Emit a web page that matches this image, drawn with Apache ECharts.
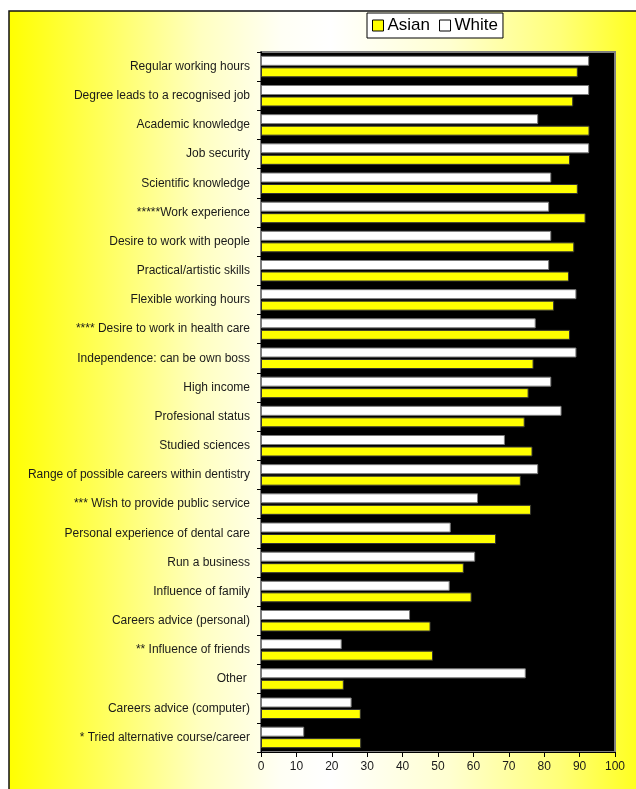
<!DOCTYPE html>
<html>
<head>
<meta charset="utf-8">
<script src="https://cdn.jsdelivr.net/npm/echarts@6/dist/echarts.min.js"></script>
<style>
html, body { margin: 0; padding: 0; background: #fff; }
#chart { width: 636px; height: 789px; }
</style>
</head>
<body>
<div id="chart"></div>
<script>
// motivations, top to bottom
var categories = [
    'Regular working hours',
    'Degree leads to a recognised job',
    'Academic knowledge',
    'Job security',
    'Scientific knowledge',
    '*****Work experience',
    'Desire to work with people',
    'Practical/artistic skills',
    'Flexible working hours',
    '**** Desire to work in health care',
    'Independence: can be own boss',
    'High income',
    'Profesional status',
    'Studied sciences',
    'Range of possible careers within dentistry',
    '*** Wish to provide public service',
    'Personal experience of dental care',
    'Run a business',
    'Influence of family',
    'Careers advice (personal)',
    '** Influence of friends',
    'Other ',
    'Careers advice (computer)',
    '* Tried alternative course/career'
];
var asianValues = [89.5, 88.2, 92.8, 87.3, 89.5, 91.7, 88.5, 87.0, 82.8, 87.3, 77.0, 75.6,
    74.5, 76.7, 73.4, 76.3, 66.4, 57.3, 59.5, 47.9, 48.6, 23.4, 28.2, 28.3];
var whiteValues = [92.7, 92.7, 78.3, 92.7, 82.0, 81.4, 82.0, 81.4, 89.1, 77.6, 89.1, 82.0,
    84.9, 68.9, 78.3, 61.3, 53.6, 60.5, 53.3, 42.1, 22.8, 74.8, 25.6, 12.2];
var xTicks = [0, 100, 10];

var chart = echarts.init(document.getElementById('chart'));

// 背景渐变 (x 9..650)
function stop(x, c) { return {offset: (x - 9) / 641, color: c}; }
var bgGradient = new echarts.graphic.LinearGradient(0, 0, 1, 0, [
    stop(9, '#ffff00'),
    stop(100, '#ffff58'),
    stop(200, '#ffffc0'),
    stop(280, '#fffff4'),
    stop(330, '#ffffff'),
    stop(450, '#ffffd0'),
    stop(560, '#ffff78'),
    stop(636, '#ffff20'),
    stop(650, '#ffff10')
]);

var option = {
    backgroundColor: '#fff',
    animation: false,
    graphic: [{
        type: 'rect',
        z: -10,
        shape: {x: 9, y: 11, width: 641, height: 800},
        style: {fill: bgGradient, stroke: '#111', lineWidth: 1.5}
    }],
    legend: {
        data: ['Asian', 'White'],
        left: 367,
        top: 13,
        backgroundColor: '#fff',
        borderColor: '#000',
        borderWidth: 1,
        padding: [4, 5, 4, 5],
        itemGap: 9,
        itemWidth: 11,
        itemHeight: 11,
        icon: 'rect',
        itemStyle: {borderColor: '#000', borderWidth: 1},
        textStyle: {fontFamily: 'Liberation Sans', fontSize: 17, color: '#000', padding: [0, 0, 0, -1]}
    },
    grid: {
        left: 261,
        top: 52,
        right: 21,
        bottom: 37,
        show: true,
        backgroundColor: '#000',
        borderColor: '#808080',
        borderWidth: 2
    },
    xAxis: {
        type: 'value',
        min: xTicks[0],
        max: xTicks[1],
        interval: xTicks[2],
        splitLine: {show: false},
        axisLine: {show: true, lineStyle: {color: '#000', width: 1}},
        axisTick: {show: true, length: 5, lineStyle: {color: '#000'}},
        axisLabel: {fontFamily: 'Liberation Sans', fontSize: 12, color: '#1a1a1a', margin: 9}
    },
    yAxis: {
        type: 'category',
        inverse: true,
        data: categories,
        axisLine: {show: true, lineStyle: {color: '#000', width: 1}},
        axisTick: {show: true, length: 4, lineStyle: {color: '#000'}},
        axisLabel: {fontFamily: 'Liberation Sans', fontSize: 12, color: '#1a1a1a', margin: 11}
    },
    series: [
        {
            name: 'White',
            type: 'bar',
            data: whiteValues,
            barWidth: 10,
            barGap: '15%',
            itemStyle: {color: '#ffffff', borderColor: '#7a7a7a', borderWidth: 1}
        },
        {
            name: 'Asian',
            type: 'bar',
            data: asianValues,
            barWidth: 10,
            barGap: '15%',
            itemStyle: {color: '#ffff00', borderColor: '#333', borderWidth: 1}
        }
    ]
};
chart.setOption(option);
</script>
</body>
</html>
